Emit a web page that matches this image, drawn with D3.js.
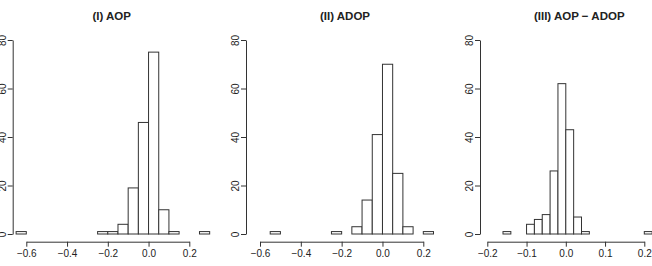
<!DOCTYPE html>
<html>
<head>
<meta charset="utf-8">
<script src="https://cdn.jsdelivr.net/npm/d3@7"></script>
<style>
  html, body { margin: 0; padding: 0; background: #fff; }
  svg { display: block; }
  text { font-family: "Liberation Sans", Arial, Helvetica, sans-serif; fill: #222; }
</style>
</head>
<body>
<svg id="chart" width="652" height="266"></svg>
<script>
// ---- Data (histogram counts) ----
const titles = ["(I) AOP", "(II) ADOP", "(III) AOP \u2212 ADOP"];

// (I) AOP: bins of width 0.05 starting at -0.65
const aopBinStart = -0.65;
const aopBinWidth = 0.05;
const aopCounts = [1, 0, 0, 0, 0, 0, 0, 0, 1, 1, 4, 19, 46, 75, 10, 1, 0, 0, 1];

// (II) ADOP: bins of width 0.05 starting at -0.55
const adopBinStart = -0.55;
const adopBinWidth = 0.05;
const adopCounts = [1, 0, 0, 0, 0, 0, 1, 0, 3, 14, 41, 70, 25, 3, 0, 1];

// (III) AOP - ADOP: bins of width 0.02 starting at -0.16
const diffBinStart = -0.16;
const diffBinWidth = 0.02;
const diffCounts = [1, 0, 0, 4, 6, 8, 26, 62, 43, 7, 1, 0, 0, 0, 0, 0, 0, 0, 1];

// tick values
const xTicksWide = [-0.6, -0.4, -0.2, 0.0, 0.2];
const xTicksDiff = [-0.2, -0.1, 0.0, 0.1, 0.2];
const yTicks = [0, 20, 40, 60, 80];

// ---- Layout ----
const panels = [
  { title: titles[0], start: aopBinStart, width: aopBinWidth, counts: aopCounts,
    xTicks: xTicksWide, xDom: [-0.6, 0.2], xRange: [26.3, 189.3], left: 12.7, right: 210.7 },
  { title: titles[1], start: adopBinStart, width: adopBinWidth, counts: adopCounts,
    xTicks: xTicksWide, xDom: [-0.6, 0.2], xRange: [260, 423.3], left: 246, right: 444 },
  { title: titles[2], start: diffBinStart, width: diffBinWidth, counts: diffCounts,
    xTicks: xTicksDiff, xDom: [-0.2, 0.2], xRange: [487.3, 644.3], left: 480, right: 678.5 }
];

const y = d3.scaleLinear().domain([0, 80]).range([234, 40]);
const axisY = 241.7;
const svg = d3.select("#chart");
const fmt = v => (v < 0 ? "\u2212" : "") + Math.abs(v).toFixed(1);
const ink = "#333";

panels.forEach(p => {
  const x = d3.scaleLinear().domain(p.xDom).range(p.xRange);
  const g = svg.append("g");

  // bars
  const bins = p.counts.map((c, i) => ({
    x0: +(p.start + i * p.width).toFixed(4),
    x1: +(p.start + (i + 1) * p.width).toFixed(4),
    c
  }));
  g.selectAll("rect.bar").data(bins).enter().append("rect")
    .attr("class", "bar")
    .attr("x", d => x(d.x0))
    .attr("width", d => x(d.x1) - x(d.x0))
    .attr("y", d => y(d.c))
    .attr("height", d => y(0) - y(d.c))
    .attr("fill", "#fff")
    .attr("stroke", ink)
    .attr("stroke-width", 1);

  // x axis
  const xa = d3.axisBottom(x).tickValues(p.xTicks).tickSize(5).tickSizeOuter(0).tickPadding(3).tickFormat(fmt);
  const gx = g.append("g").attr("transform", `translate(0,${axisY})`).call(xa);
  gx.select(".domain").attr("stroke", ink);
  gx.selectAll(".tick line").attr("stroke", ink);
  gx.selectAll(".tick text").attr("font-size", "10px")
    .attr("font-family", "'Liberation Sans', Arial, sans-serif").attr("fill", "#222");

  // y axis
  const ya = d3.axisLeft(y).tickValues(yTicks).tickSize(5).tickSizeOuter(0).tickFormat(d3.format("d"));
  const gy = g.append("g").attr("transform", `translate(${p.left},0)`).call(ya);
  gy.select(".domain").attr("stroke", ink);
  gy.selectAll(".tick line").attr("stroke", ink);
  gy.selectAll(".tick text")
    .attr("font-size", "10px")
    .attr("font-family", "'Liberation Sans', Arial, sans-serif")
    .attr("fill", "#222")
    .attr("x", null).attr("dy", null)
    .attr("text-anchor", "middle")
    .attr("transform", "translate(-7,0) rotate(-90)");

  // title
  g.append("text")
    .attr("x", (p.left + p.right) / 2)
    .attr("y", 19.5)
    .attr("text-anchor", "middle")
    .attr("font-size", "11.5px")
    .attr("font-weight", "bold")
    .text(p.title);
});
</script>
</body>
</html>
